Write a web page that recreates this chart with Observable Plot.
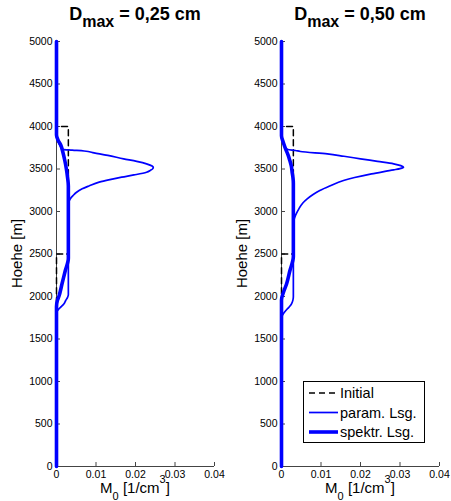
<!DOCTYPE html>
<html>
<head>
<meta charset="utf-8">
<script src="https://cdn.jsdelivr.net/npm/d3@7"></script>
<script src="https://cdn.jsdelivr.net/npm/@observablehq/plot@0.6"></script>
<style>
  body { margin: 0; background: #fff; }
  #chart { position: relative; width: 451px; height: 501px; }
  #chart svg { position: absolute; top: 0; }
</style>
</head>
<body>
<div id="chart"></div>
<script>
// Maximum drop diameter of each run (panel titles)
const dmax = ["0,25", "0,50"];

// Axis ticks
const xTicks = [0, 0.01, 0.02, 0.03, 0.04];
const yTicks = [0, 500, 1000, 1500, 2000, 2500, 3000, 3500, 4000, 4500, 5000];

// Legend entries
const legendLabels = ["Initial", "param. Lsg.", "spektr. Lsg."];

// Initial number concentration profile (same for both runs)
const initH = [5000, 4000, 4000, 2500, 2500, 0];
const initM = [0, 0, 0.003, 0.003, 0, 0];

// Parameterised solution, D_max = 0,25 cm
const param25H = [5000, 3880, 3820, 3760, 3730, 3722, 3712, 3690, 3660, 3620, 3590, 3561, 3535, 3518, 3500, 3485, 3462, 3430, 3404, 3375, 3345, 3300, 3267, 3224, 3188, 3150, 3110, 3060, 2020, 1990, 1950, 1914, 1880, 1855, 1830, 1805, 0];
const param25M = [0, 0, 0.0004, 0.0011, 0.0017, 0.0040, 0.0070, 0.0095, 0.0130, 0.0170, 0.0203, 0.0228, 0.0242, 0.0245, 0.0243, 0.0238, 0.0228, 0.0196, 0.0165, 0.0135, 0.0108, 0.0082, 0.0065, 0.0050, 0.0042, 0.0035, 0.0031, 0.0030, 0.0030, 0.0028, 0.0023, 0.0019, 0.0012, 0.0006, 0.0002, 0, 0];

// Spectral solution, D_max = 0,25 cm
const spec25H = [5000, 3900, 3840, 3780, 3700, 3600, 3500, 3400, 3300, 2450, 2300, 2150, 2000, 1950, 1880, 0];
const spec25M = [0, 0, 0.0004, 0.0011, 0.0016, 0.0021, 0.0025, 0.0028, 0.0030, 0.0030, 0.0022, 0.0014, 0.0006, 0.0002, 0, 0];

// Parameterised solution, D_max = 0,50 cm
const param50H = [5000, 3870, 3800, 3745, 3730, 3718, 3706, 3678, 3650, 3620, 3590, 3561, 3540, 3522, 3505, 3490, 3443, 3400, 3365, 3300, 3247, 3200, 3149, 3100, 3031, 2960, 2894, 2850, 2000, 1960, 1920, 1890, 1860, 1830, 1800, 1770, 1750, 0];
const param50M = [0, 0, 0.0005, 0.0011, 0.0016, 0.0035, 0.0048, 0.0116, 0.0158, 0.0200, 0.0243, 0.0284, 0.0302, 0.0309, 0.0300, 0.0284, 0.0228, 0.0185, 0.0157, 0.0122, 0.0097, 0.0080, 0.0065, 0.0054, 0.0044, 0.0036, 0.0031, 0.0030, 0.0030, 0.0029, 0.0026, 0.0022, 0.0016, 0.0010, 0.0005, 0.0001, 0, 0];

// Spectral solution, D_max = 0,50 cm
const spec50H = [5000, 3890, 3820, 3740, 3660, 3600, 3530, 3460, 3400, 3330, 2470, 2300, 2150, 2050, 1960, 0];
const spec50M = [0, 0, 0.0004, 0.0010, 0.0017, 0.0021, 0.0025, 0.0027, 0.0029, 0.0030, 0.0030, 0.0021, 0.0013, 0.0005, 0, 0];

const profile = (H, M) => H.map((h, i) => ({h, m: M[i]}));
const runs = [
  {param: profile(param25H, param25M), spec: profile(spec25H, spec25M)},
  {param: profile(param50H, param50M), spec: profile(spec50H, spec50M)}
];
const initial = profile(initH, initM);

const BLUE = "#0000ff";
const AXIS = "#444";
const DASH = "6,4";
const FONT = "'Liberation Sans', Arial, Helvetica, sans-serif";

const chart = document.getElementById("chart");

runs.forEach((run, i) => {
  const w = i === 0 ? 225 : 226;
  const svg = Plot.plot({
    width: w,
    height: 501,
    marginLeft: 56,
    marginRight: w - 214,
    marginTop: 41,
    marginBottom: 35,
    style: {fontFamily: FONT, fontSize: "10.5px", color: "#000", background: "transparent", overflow: "visible"},
    x: {domain: [0, 0.04]},
    y: {domain: [0, 5000]},
    marks: [
      Plot.ruleX([0], {stroke: AXIS}),
      Plot.ruleY([0], {stroke: AXIS}),
      Plot.axisY({ticks: yTicks, tickSize: -4, tickPadding: 8, tickFormat: d => String(d), label: null, stroke: AXIS, fill: "#000"}),
      Plot.axisX({ticks: xTicks, tickSize: -4, tickPadding: 8, tickFormat: d => String(d), label: null, stroke: AXIS, fill: "#000"}),
      Plot.line(initial, {x: "m", y: "h", stroke: "#000", strokeWidth: 1.5, strokeDasharray: DASH}),
      Plot.line(run.param, {x: "m", y: "h", stroke: BLUE, strokeWidth: 1.7, curve: "monotone-y", strokeLinejoin: "round"}),
      Plot.line(run.spec, {x: "m", y: "h", stroke: BLUE, strokeWidth: 3.6, curve: "monotone-y", strokeLinejoin: "round"})
    ]
  });
  svg.style.left = (i === 0 ? 0 : 225) + "px";
  const s = d3.select(svg);

  // Panel title: D_max = ... cm
  const t = s.append("text")
    .attr("x", 135).attr("y", 20)
    .attr("text-anchor", "middle")
    .attr("font-family", FONT).attr("font-weight", "bold").attr("font-size", 18)
    .attr("fill", "#000");
  t.append("tspan").text("D");
  t.append("tspan").attr("font-size", 16).attr("dy", 7).text("max");
  t.append("tspan").attr("dy", -7).text(` = ${dmax[i]} cm`);

  // x-axis label: M_0 [1/cm^3]
  const xl = s.append("text")
    .attr("x", 135).attr("y", 493)
    .attr("text-anchor", "middle")
    .attr("font-family", FONT).attr("font-size", 15).attr("fill", "#000");
  xl.append("tspan").text("M");
  xl.append("tspan").attr("font-size", 11).attr("dy", 7).text("0");
  xl.append("tspan").attr("dy", -7).text(" [1/cm");
  xl.append("tspan").attr("font-size", 11).attr("dy", -10).text("3");
  xl.append("tspan").attr("dy", 10).text("]");

  // y-axis label
  s.append("text")
    .attr("transform", "translate(22,253.5) rotate(-90)")
    .attr("text-anchor", "middle")
    .attr("font-family", FONT).attr("font-size", 15).attr("fill", "#000")
    .text("Hoehe [m]");

  // Legend in the second panel
  if (i === 1) {
    const lg = s.append("g")
      .attr("font-family", FONT).attr("font-size", 14.5)
      .attr("text-anchor", "start");
    lg.append("rect").attr("x", 78.5).attr("y", 381.5).attr("width", 121).attr("height", 61)
      .attr("fill", "#fff").attr("stroke", "#000").attr("stroke-width", 1);
    const styles = [
      {stroke: "#000", width: 1.5, dash: DASH},
      {stroke: BLUE, width: 1.7, dash: null},
      {stroke: BLUE, width: 3.6, dash: null}
    ];
    legendLabels.forEach((label, k) => {
      const y = 393 + k * 19.5;
      lg.append("line").attr("x1", 84).attr("x2", 113).attr("y1", y).attr("y2", y)
        .attr("stroke", styles[k].stroke).attr("stroke-width", styles[k].width)
        .attr("stroke-dasharray", styles[k].dash);
      lg.append("text").attr("x", 115).attr("y", y + 5)
        .attr("text-anchor", "start").attr("fill", "#000").text(label);
    });
  }

  chart.appendChild(svg);
});
</script>
</body>
</html>
